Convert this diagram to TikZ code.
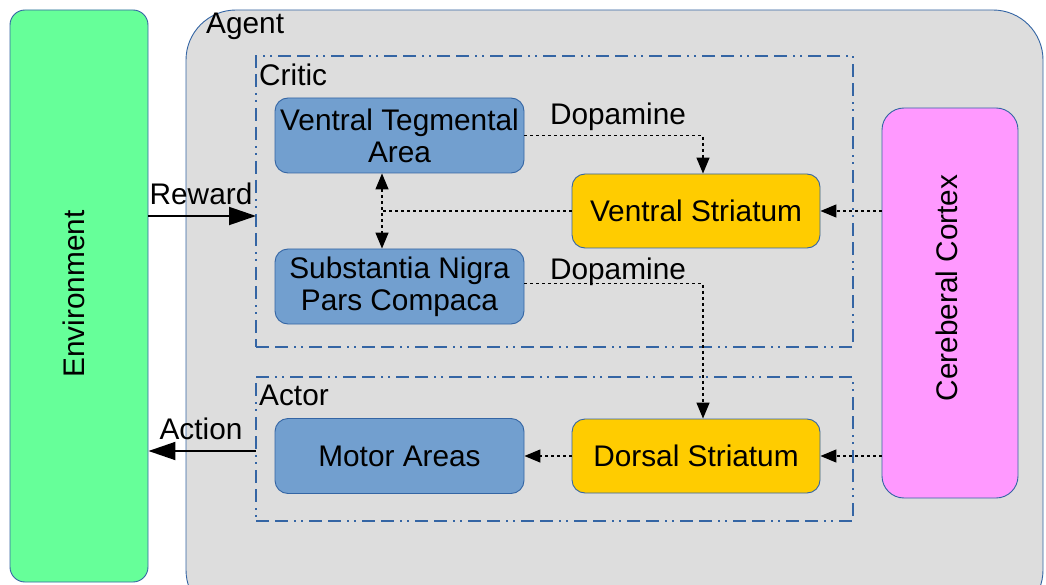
\documentclass[tikz,border=0pt]{standalone}
\usepackage{fontspec}
\setmainfont{Liberation Sans}
\usetikzlibrary{arrows.meta}
\definecolor{envgreen}{HTML}{66FF99}
\definecolor{agentgray}{HTML}{DDDDDD}
\definecolor{boxblue}{HTML}{729FCF}
\definecolor{boxyellow}{HTML}{FFCC00}
\definecolor{boxpink}{HTML}{FF99FF}
\definecolor{edgeblue}{HTML}{3465A4}
\tikzset{
  every node/.style={font=\fontsize{29.8}{32}\selectfont},
  region/.style={draw=edgeblue, line width=0.9pt, rounded corners=13pt, align=center, inner sep=0pt},
  bluebox/.style={region, fill=boxblue, minimum width=249pt, minimum height=75pt},
  yellowbox/.style={region, fill=boxyellow, minimum width=248pt, minimum height=74pt},
  groupbox/.style={draw=edgeblue, line width=1.3pt, dash pattern=on 13pt off 6pt on 13pt off 6pt on 2pt off 5pt on 2pt off 6pt, minimum width=597pt, inner sep=0pt},
  lbl/.style={inner sep=0pt},
  dotline/.style={line width=1.4pt, dash pattern=on 3pt off 3pt, -{Triangle[length=16pt, width=13pt]}},
  solidarrow/.style={line width=1.9pt, -{Triangle[length=27pt, width=18pt]}}
}
\begin{document}
\begin{tikzpicture}[x=1pt, y=-1pt]
\clip (0,0) rectangle (1046,585);
\fill[white] (0,0) rectangle (1046,585);
% Agent
\draw[draw=edgeblue, line width=0.9pt, fill=agentgray, rounded corners=50pt] (186,10) rectangle (1043,620);
\node[lbl, anchor=west] (agentlbl) at (206,26) {Agent};
% Environment
\node[region, fill=envgreen, rounded corners=15pt, minimum width=138pt, minimum height=572pt] (env) at (79,296) {};
\node[lbl, rotate=90] (envlbl) at (74,294) {Environment};
% Critic and Actor groups
\node[groupbox, minimum height=291pt] (critic) at (554.5,201.5) {};
\node[lbl, anchor=west] (criticlbl) at (259,75) {Critic};
\node[groupbox, minimum height=144pt] (actor) at (554.5,449) {};
\node[lbl, anchor=west] (actorlbl) at (259,395) {Actor};
% Boxes
\node[bluebox] (vta) at (399.5,135.5) {Ventral Tegmental\\Area};
\node[bluebox] (snpc) at (399.5,286.5) {Substantia Nigra\\Pars Compaca};
\node[bluebox] (motor) at (399.5,456) {Motor Areas};
\node[yellowbox] (vs) at (696,211) {Ventral Striatum};
\node[yellowbox] (ds) at (696,456) {Dorsal Striatum};
\node[region, fill=boxpink, rounded corners=22pt, minimum width=136pt, minimum height=390pt] (cx) at (950,303) {};
\node[lbl, rotate=90] (cxlbl) at (947,288) {Cereberal Cortex};
% Reward / Action
\coordinate (rw) at (256,216);
\draw[solidarrow] (rw -| env.east) -- (rw);
\node[lbl] (rwlbl) at (201,194) {Reward};
\coordinate (ac) at (256,451);
\draw[solidarrow] (ac) -- (ac -| env.east);
\node[lbl] (aclbl) at (201,429) {Action};
% Dopamine paths
\draw[dotline] (vta.east) -| ([xshift=7pt]vs.north);
\node[lbl] (dop1) at (618,117) {Dopamine};
\draw[dotline] ([yshift=3pt]snpc.east) -| ([xshift=7pt]ds.north);
\node[lbl] (dop2) at (618,272) {Dopamine};
% VS to VTA/SNPC
\coordinate (vm) at (382,211);
\draw[line width=1.4pt, dash pattern=on 3pt off 3pt] (vs.west) -- (vm);
\draw[line width=1.4pt, dash pattern=on 3pt off 3pt, {Triangle[length=16pt, width=13pt]}-{Triangle[length=16pt, width=13pt]}] (vta.south -| vm) -- (snpc.north -| vm);
% Cortex inputs
\draw[dotline] (vs.east -| cx.west) -- (vs.east);
\draw[dotline] (ds.east -| cx.west) -- (ds.east);
\draw[dotline] (ds.west) -- (motor.east);
\end{tikzpicture}
\end{document}
